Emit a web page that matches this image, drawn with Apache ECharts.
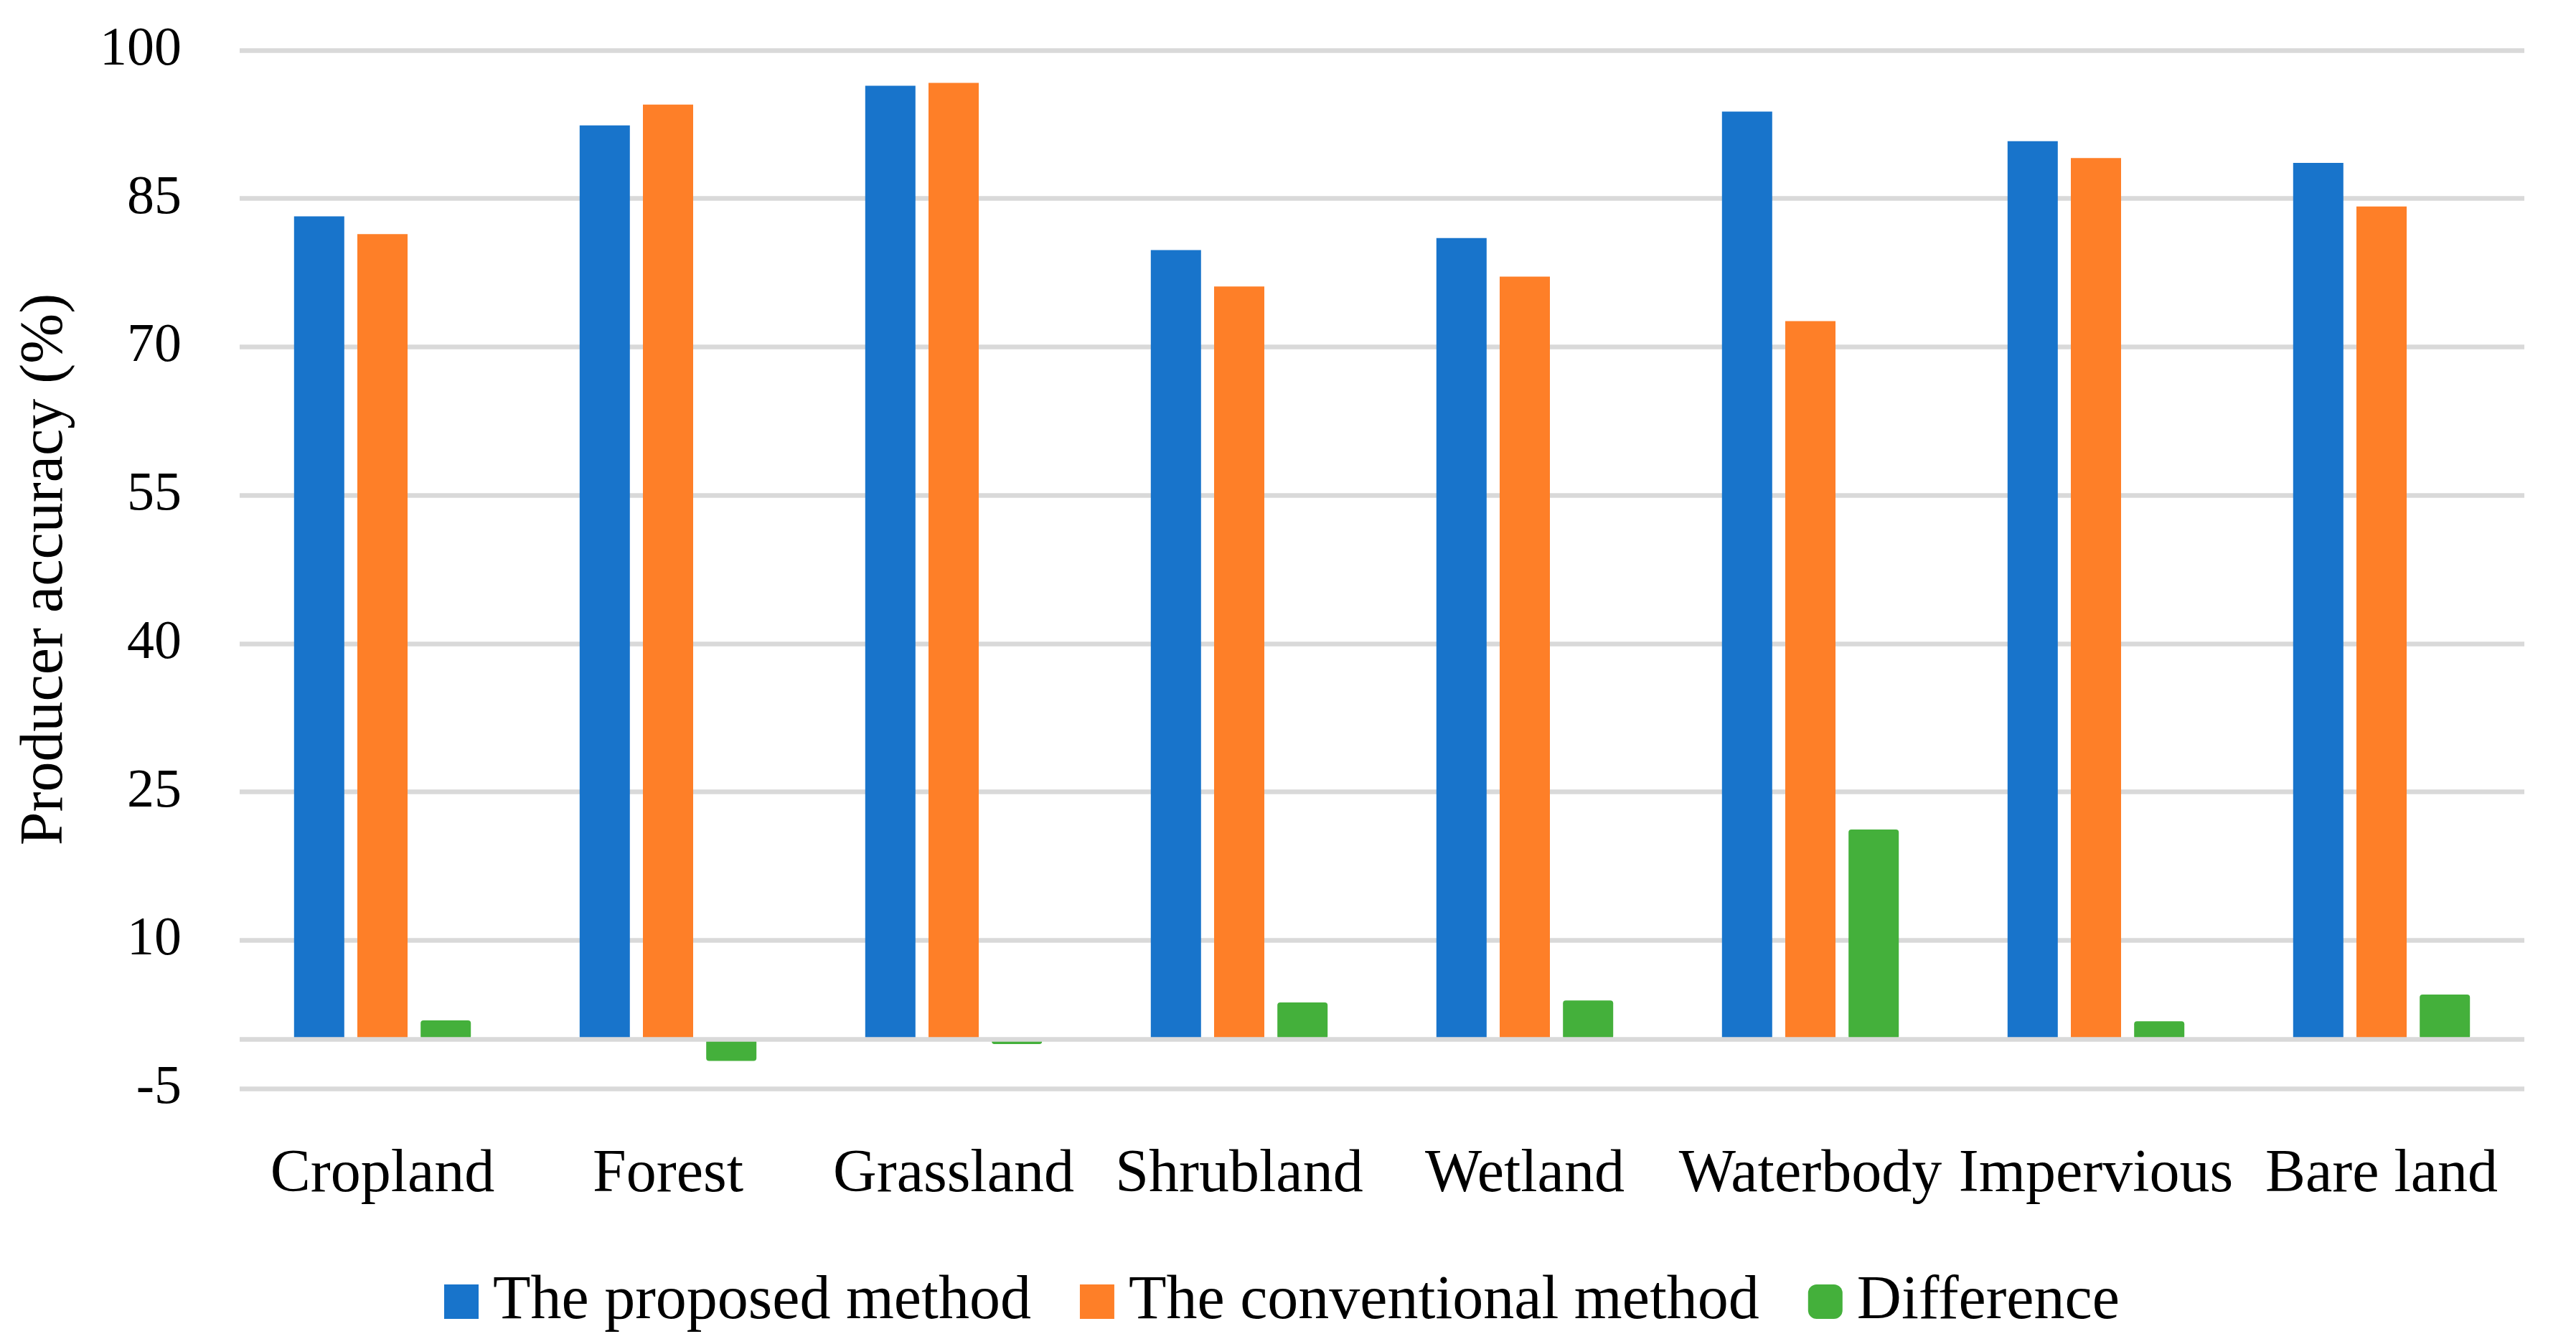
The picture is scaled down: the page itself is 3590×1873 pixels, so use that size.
<!DOCTYPE html>
<html>
<head>
<meta charset="utf-8">
<script src="https://cdn.jsdelivr.net/npm/echarts@6/dist/echarts.min.js"></script>
<style>
html,body{margin:0;padding:0;background:#fff;}
#chart{width:3590px;height:1873px;}
</style>
</head>
<body>
<div id="chart"></div>
<script>
const categories = ['Cropland','Forest','Grassland','Shrubland','Wetland','Waterbody','Impervious','Bare land'];
const proposed = [83.2, 92.4, 96.4, 79.8, 81.0, 93.8, 90.8, 88.6];
const conventional = [81.4, 94.5, 96.7, 76.1, 77.1, 72.6, 89.1, 84.2];
const difference = [1.9, -2.2, -0.5, 3.7, 3.9, 21.2, 1.8, 4.5];
const seriesNames = ['The proposed method','The conventional method','Difference'];
const yMin = -5, yMax = 100, yStep = 15;

const FONT = '"Liberation Serif", "Times New Roman", serif';
const colors = ['#1874cb', '#fe7f28', '#44b03b'];

const chart = echarts.init(document.getElementById('chart'));
chart.setOption({
  animation: false,
  backgroundColor: '#ffffff',
  color: colors,
  grid: { left: 334, right: 72, top: 70, bottom: 356, containLabel: false },
  legend: {
    left: 614,
    top: 1766,
    itemWidth: 48,
    itemHeight: 48,
    itemGap: 68,
    data: [
      { name: seriesNames[0], icon: 'rect' },
      { name: seriesNames[1], icon: 'rect' },
      { name: seriesNames[2], icon: 'roundRect' }
    ],
    textStyle: { fontFamily: FONT, fontSize: 86, color: '#000', lineHeight: 48, padding: [0, 0, 0, 15] }
  },
  xAxis: {
    type: 'category',
    data: categories,
    axisLine: { show: false, onZero: false },
    axisTick: { show: false },
    axisLabel: { fontFamily: FONT, fontSize: 84, color: '#000', margin: 79, lineHeight: 84, interval: 0 }
  },
  yAxis: {
    type: 'value',
    min: yMin, max: yMax, interval: yStep,
    name: 'Producer accuracy (%)',
    nameLocation: 'middle',
    nameGap: 270,
    nameRotate: 90,
    nameTextStyle: { fontFamily: FONT, fontSize: 84, color: '#000', verticalAlign: 'middle', align: 'center', padding: [0, 0, 0, 0] },
    axisLine: { show: false },
    axisTick: { show: false },
    axisLabel: { fontFamily: FONT, fontSize: 76, color: '#000', margin: 81 },
    splitLine: { lineStyle: { color: '#d9d9d9', width: 6.5 } }
  },
  series: [
    { name: seriesNames[0], type: 'bar', data: proposed, barWidth: 70, barGap: '26%' },
    { name: seriesNames[1], type: 'bar', data: conventional, barWidth: 70, barGap: '26%' },
    {
      name: seriesNames[2], type: 'bar', data: difference, barWidth: 70, barGap: '26%',
      itemStyle: { borderRadius: 4 },
      markLine: {
        silent: true,
        symbol: ['none', 'none'],
        label: { show: false },
        lineStyle: { color: '#d9d9d9', width: 6.5, type: 'solid' },
        data: [{ yAxis: 0 }]
      }
    }
  ]
});
</script>
</body>
</html>
